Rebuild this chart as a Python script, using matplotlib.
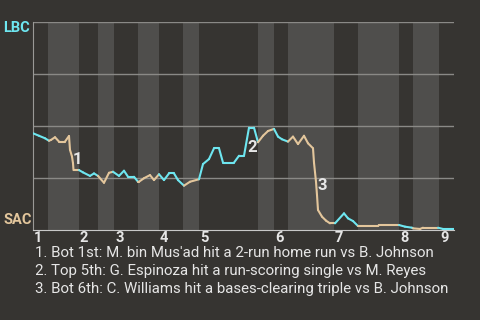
import matplotlib
matplotlib.use("Agg")
import matplotlib.pyplot as plt
from matplotlib.collections import LineCollection
import numpy as np

plt.rcParams['font.family'] = ['Roboto', 'DejaVu Sans']

# game progress (0..421) and LBC win probability (%)
progress = [0, 6, 12, 16, 18, 22, 26, 32, 36, 37, 39, 40, 40.5, 46, 50, 57, 61, 65,
            71, 76, 80, 86, 91, 95, 101, 105, 106, 111, 117, 121, 126, 131, 136, 141,
            145, 151, 157, 166, 170, 176, 181, 186, 190, 201, 206, 211, 216, 221, 225,
            230, 235, 241, 245, 249, 255, 260, 265, 271, 275, 280, 281, 283, 284, 285,
            289, 293, 297, 302, 311, 315, 320, 325, 334, 345, 346, 366, 372, 379, 380,
            387, 390, 405, 410, 421]
lbc_prob = [46.5, 45.3, 44.1, 42.9, 43.3, 44.6, 42.5, 42.5, 45.2, 38.5, 35.3, 32.1, 28.8,
            28.8, 27.7, 26.0, 27.2, 26.0, 22.7, 27.5, 28.0, 26.0, 28.5, 25.6, 25.6, 23.2,
            23.2, 24.9, 26.4, 24.0, 26.8, 24.0, 27.2, 27.2, 24.0, 21.3, 23.2, 24.4, 31.7,
            34.1, 39.3, 39.3, 32.4, 32.4, 35.7, 35.7, 49.2, 49.2, 42.2, 45.3, 47.6, 48.6,
            44.9, 43.6, 42.5, 44.9, 41.3, 45.3, 41.7, 39.3, 32.4, 23.2, 16.8, 9.6, 6.4,
            4.5, 3.2, 3.2, 8.0, 5.6, 4.3, 1.9, 1.9, 1.9, 2.4, 2.4, 1.6, 1.1, 0.8, 0.5,
            1.1, 1.1, 0.5, 0.5]

# half-inning boundaries (top, bottom, top, ...)
half_innings = [0, 15, 46, 65, 81, 105, 126, 150, 166, 225, 241, 255, 301, 325, 366, 380, 406, 421]
inning_labels = ['1', '2', '3', '4', '5', '6', '7', '8', '9']

events = [(44.2, 34.0, '1'), (219.3, 39.8, '2'), (289, 21.2, '3')]
notes = ["1. Bot 1st: M. bin Mus'ad hit a 2-run home run vs B. Johnson",
         "2. Top 5th: G. Espinoza hit a run-scoring single vs M. Reyes",
         "3. Bot 6th: C. Williams hit a bases-clearing triple vs B. Johnson"]

BG = '#363431'
BAND = '#4f4e4c'
CYAN = '#6ee6f0'
TAN = '#e3c69c'
TEXT = '#e6e6e6'

fig = plt.figure(figsize=(4.8, 3.2), dpi=100)
fig.patch.set_facecolor(BG)
ax = fig.add_axes([33 / 480, 90 / 320, 421 / 480, 208 / 320])
ax.set_facecolor(BG)
ax.set_xlim(0, half_innings[-1])
ax.set_ylim(0, 100)

# shade bottom halves
for i in range(1, len(half_innings) - 1, 2):
    ax.axvspan(half_innings[i], half_innings[i + 1], color=BAND, lw=0, zorder=0)

for y in [25, 50, 75, 100]:
    ax.axhline(y, color='#8a8986', lw=1, zorder=1)

for s in ['top', 'right']:
    ax.spines[s].set_visible(False)
ax.spines['left'].set_color('#9a9996')
ax.spines['bottom'].set_color('#c8c8c8')
ax.set_xticks([])
ax.set_yticks([])

# colour each segment by which team is batting
x = np.array(progress)
y = np.array(lbc_prob)
segs = [[(x[i], y[i]), (x[i + 1], y[i + 1])] for i in range(len(x) - 1)]
cols = []
for i in range(len(x) - 1):
    mid = (x[i] + x[i + 1]) / 2
    k = np.searchsorted(half_innings, mid, side='right') - 1
    cols.append(CYAN if k % 2 == 0 else TAN)
ax.add_collection(LineCollection(segs, colors=cols, linewidths=1.5, zorder=3,
                                 capstyle='round', joinstyle='round'))

for ex, ey, lab in events:
    ax.text(ex, ey, lab, color=TEXT, fontsize=12, fontweight='bold',
            ha='center', va='center', zorder=4)

for i, lab in enumerate(inning_labels):
    ax.text(half_innings[i * 2] + 1, -5.8, lab, color=TEXT, fontsize=10.5,
            fontweight='bold', ha='left', va='baseline', clip_on=False)

fig.text(3 / 480, 1 - 28 / 320, 'LBC', color=CYAN, fontsize=10.5,
         fontweight='bold', ha='left', va='center')
fig.text(3 / 480, 1 - 220 / 320, 'SAC', color=TAN, fontsize=10.5,
         fontweight='bold', ha='left', va='center')

for i, n in enumerate(notes):
    fig.text(35 / 480, 1 - (257 + i * 18) / 320, n, color=TEXT, fontsize=10.8,
             ha='left', va='baseline')

fig.savefig('out.png', dpi=100, facecolor=BG)
